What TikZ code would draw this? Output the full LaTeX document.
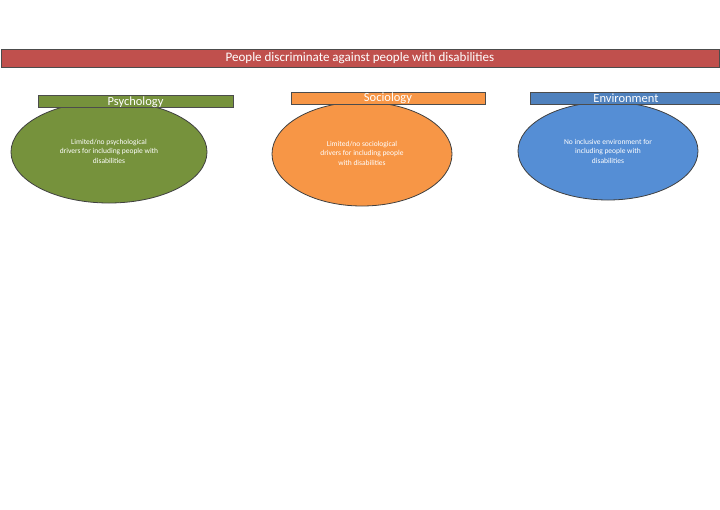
\documentclass[tikz,border=0pt]{standalone}
\usepackage{fontspec}
\setmainfont{Carlito}
\usetikzlibrary{shapes.geometric}
\definecolor{cred}{HTML}{C0504D}
\definecolor{cgreen}{HTML}{76923C}
\definecolor{corange}{HTML}{F79646}
\definecolor{cblue}{HTML}{558ED5}
\definecolor{cbluebar}{HTML}{4F81BD}
\begin{document}
\begin{tikzpicture}[x=1pt,y=-1pt,
  bar/.style={draw=black!70,line width=0.8pt,inner sep=0pt},
  oval/.style={ellipse,draw=black!75,line width=0.8pt,inner sep=0pt},
  ovtext/.style={text=white,font=\fontsize{7.5}{9.5}\selectfont,align=center},
  bartext/.style={text=white,font=\fontsize{12.5}{14}\selectfont}]
\useasboundingbox (0,0) rectangle (720,509);
\fill[white] (0,0) rectangle (720,509);
\node[bar,fill=cred,minimum width=718pt,minimum height=18pt] (top) at (360,58) {};
\node[bartext,font=\fontsize{13}{15}\selectfont] (toptxt) at (360,58.5) {People discriminate against people with disabilities};

\node[oval,fill=cgreen,minimum width=196pt,minimum height=102pt] (e1) at (109,152) {};
\node[bar,fill=cgreen,minimum width=195pt,minimum height=12pt] (b1) at (135.5,101) {};
\node[bartext] (t1) at (135.5,102.5) {Psychology};
\node[ovtext] (x1) at (109,151) {Limited/no psychological\\drivers for including people with\\disabilities};

\node[oval,fill=corange,minimum width=180pt,minimum height=104pt] (e2) at (362,154) {};
\node[bar,fill=corange,minimum width=194pt,minimum height=12pt] (b2) at (388,98) {};
\node[bartext] (t2) at (388,98) {Sociology};
\node[ovtext] (x2) at (362,153) {Limited/no sociological\\drivers for including people\\with disabilities};

\node[oval,fill=cblue,minimum width=180pt,minimum height=98pt] (e3) at (608,151) {};
\node[bar,fill=cbluebar,minimum width=192pt,minimum height=12pt] (b3) at (626,98) {};
\node[bartext] (t3) at (626,98.5) {Environment};
\node[ovtext] (x3) at (608,151) {No inclusive environment for\\including people with\\disabilities};
\end{tikzpicture}
\end{document}
